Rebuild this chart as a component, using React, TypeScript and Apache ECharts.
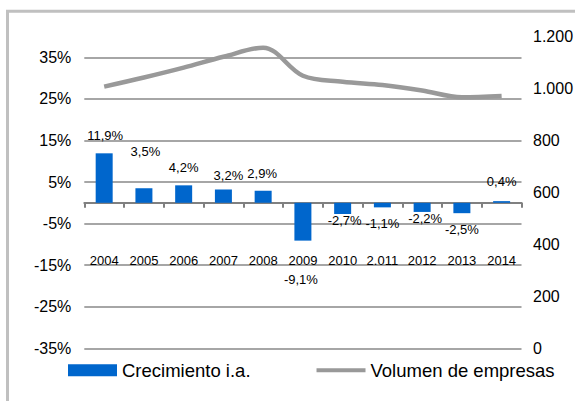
import React, { useEffect, useRef } from "react";
import * as echarts from "echarts";

const categories = ["2004", "2005", "2006", "2007", "2008", "2009", "2010", "2.011", "2012", "2013", "2014"];
const growth = [11.9, 3.5, 4.2, 3.2, 2.9, -9.1, -2.7, -1.1, -2.2, -2.5, 0.4];
const companies = [1007, 1042, 1080, 1122, 1157, 1049, 1026, 1013, 992, 966, 971];
const leftTicks = { min: -35, max: 40, interval: 10 };
const rightTicks = { min: 0, max: 1200, interval: 200 };

// per-label nudges [dx, dy] (style only)
const labelOffsets: [number, number][] = [
  [1, -6], [1.5, -25], [0, -6], [5, -2], [-1, -6],
  [-2, 27], [2, -5.5], [0, 5], [3, -4.5], [0, 5], [0, -8],
];

const FONT = "'Liberation Sans', Arial, sans-serif";

function fmtThousands(v: number): string {
  const s = String(Math.round(v));
  return s.replace(/\B(?=(\d{3})+(?!\d))/g, ".");
}

export default function App() {
  const ref = useRef<HTMLDivElement>(null);
  useEffect(() => {
    if (!ref.current) return;
    const chart = echarts.init(ref.current, undefined, { renderer: "svg" });
    const barData = growth.map((v, i) => ({
      value: v,
      label: {
        position: v >= 0 ? "top" : "bottom",
        distance: 5,
        offset: labelOffsets[i],
      },
    }));
    chart.setOption({
      animation: false,
      backgroundColor: "#ffffff",
      textStyle: { fontFamily: FONT },
      graphic: [
        {
          type: "rect",
          shape: { x: 7.5, y: 11.3, width: 700, height: 500 },
          style: { fill: "none", stroke: "#c0c0c0", lineWidth: 3 },
          silent: true,
        },
      ],
      grid: {
        left: 84.3,
        right: 53.5,
        top: 36.5,
        bottom: 52.7,
        containLabel: false,
        outerBoundsMode: "none",
      },
      legend: {
        left: 68,
        top: 360.75,
        padding: 0,
        itemWidth: 49,
        itemHeight: 12,
        itemGap: 66,
        textStyle: { fontSize: 18.5, color: "#000", fontFamily: FONT },
        data: [
          { name: "Crecimiento i.a.", icon: "rect" },
          { name: "Volumen de empresas", icon: "path://M0,0H49V4H0Z" },
        ],
      },
      xAxis: {
        type: "category",
        data: categories,
        axisLine: { onZero: true, onZeroAxisIndex: 0, lineStyle: { color: "#808080", width: 2 } },
        axisTick: { show: true, interval: 0, length: 5, lineStyle: { color: "#808080", width: 2 } },
        axisLabel: { margin: -94.8, fontSize: 13, color: "#000", fontFamily: FONT, interval: 0 },
        splitLine: { show: false },
      },
      yAxis: [
        {
          type: "value",
          min: leftTicks.min,
          max: leftTicks.max,
          interval: leftTicks.interval,
          axisLine: { show: false },
          axisTick: { show: false },
          axisLabel: {
            fontSize: 16,
            color: "#000",
            margin: 13,
            fontFamily: FONT,
            showMaxLabel: false,
            formatter: (v: number) => (v === leftTicks.max ? "" : `${v}%`),
          },
          splitLine: { show: true, showMaxLine: false, lineStyle: { color: "#a6a6a6", width: 2 } },
        },
        {
          type: "value",
          min: rightTicks.min,
          max: rightTicks.max,
          interval: rightTicks.interval,
          position: "right",
          axisLine: { show: false },
          axisTick: { show: false },
          splitLine: { show: false },
          axisLabel: {
            fontSize: 16,
            color: "#000",
            margin: 11.5,
            fontFamily: FONT,
            formatter: (v: number) => fmtThousands(v),
          },
        },
      ],
      series: [
        {
          name: "Crecimiento i.a.",
          type: "bar",
          yAxisIndex: 0,
          barWidth: 17,
          itemStyle: { color: "#0066cc" },
          label: {
            show: true,
            fontSize: 13,
            color: "#000",
            fontFamily: FONT,
            formatter: (p: any) => `${Number(p.value).toFixed(1).replace(".", ",")}%`,
          },
          data: barData,
        },
        {
          name: "Volumen de empresas",
          type: "line",
          yAxisIndex: 1,
          smooth: 0.35,
          symbol: "none",
          lineStyle: { color: "#999999", width: 4.5 },
          itemStyle: { color: "#999999" },
          data: companies,
        },
      ],
    });
    return () => chart.dispose();
  }, []);
  return <div ref={ref} style={{ position: "fixed", left: 0, top: 0, width: 575, height: 401 }} />;
}
